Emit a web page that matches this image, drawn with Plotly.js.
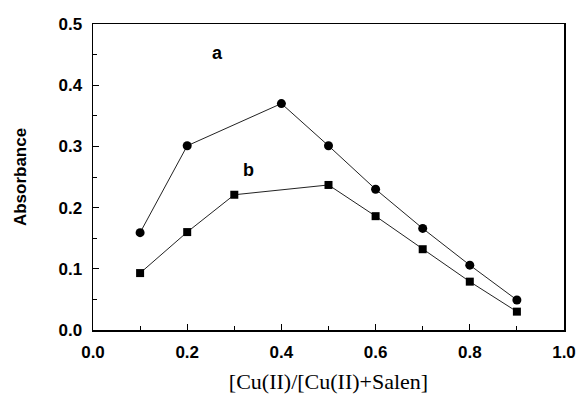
<!DOCTYPE html>
<html><head><meta charset="utf-8">
<script src="https://cdn.plot.ly/plotly-3.0.1.min.js"></script>
<style>html,body{margin:0;padding:0;background:#fff}</style>
</head><body><div id="chart" style="width:578px;height:397px"></div>
<script>
const xA = [0.1, 0.2, 0.4, 0.5, 0.6, 0.7, 0.8, 0.9];
const yA = [0.159, 0.301, 0.370, 0.301, 0.230, 0.166, 0.106, 0.049];
const xB = [0.1, 0.2, 0.3, 0.5, 0.6, 0.7, 0.8, 0.9];
const yB = [0.093, 0.160, 0.221, 0.237, 0.186, 0.132, 0.079, 0.030];
const labelA = 'a', labelB = 'b';
const xTitle = '[Cu(II)/[Cu(II)+Salen]';
const yTitle = 'Absorbance';

const traces = [
  {x: xA, y: yA, mode: 'lines+markers', line: {color: '#222', width: 1},
   marker: {symbol: 'circle', size: 9, color: '#000'}},
  {x: xB, y: yB, mode: 'lines+markers', line: {color: '#222', width: 1},
   marker: {symbol: 'square', size: 8, color: '#000'}}
];
const tickFont = {family: 'Liberation Sans, Arial, sans-serif', size: 17, color: '#000', weight: 'bold'};
const layout = {
  width: 578, height: 397,
  margin: {l: 93, r: 14, t: 24, b: 67},
  showlegend: false,
  paper_bgcolor: '#fff', plot_bgcolor: '#fff',
  xaxis: {range: [0, 1], tick0: 0, dtick: 0.2, tickformat: '.1f', ticks: 'inside', ticklen: 6,
    tickcolor: '#000', showline: true, linecolor: '#000', linewidth: 1.5, mirror: true,
    showgrid: false, zeroline: false, tickfont: tickFont, ticklabelstandoff: 6,
    minor: {dtick: 0.1, ticks: 'inside', ticklen: 4, tickcolor: '#000', showgrid: false},
    title: {text: xTitle, font: {family: 'Liberation Serif, Times New Roman, serif', size: 22, color: '#000'}, standoff: 12}},
  yaxis: {range: [0, 0.5], tick0: 0, dtick: 0.1, tickformat: '.1f', ticks: 'inside', ticklen: 6,
    tickcolor: '#000', showline: true, linecolor: '#000', linewidth: 1.5, mirror: true,
    showgrid: false, zeroline: false, tickfont: tickFont, ticklabelstandoff: 6,
    minor: {dtick: 0.05, ticks: 'inside', ticklen: 4, tickcolor: '#000', showgrid: false},
    title: {text: yTitle, font: {family: 'Liberation Sans, Arial, sans-serif', size: 17, color: '#000', weight: 'bold'}, standoff: 27}},
  annotations: [
    {x: 0.265, y: 0.453, xref: 'x', yref: 'y', text: labelA, showarrow: false,
     font: {family: 'Liberation Sans, Arial, sans-serif', size: 18, color: '#000', weight: 'bold'}},
    {x: 0.33, y: 0.261, xref: 'x', yref: 'y', text: labelB, showarrow: false,
     font: {family: 'Liberation Sans, Arial, sans-serif', size: 18, color: '#000', weight: 'bold'}}
  ]
};
Plotly.newPlot('chart', traces, layout, {displayModeBar: false, staticPlot: true});
</script></body></html>
